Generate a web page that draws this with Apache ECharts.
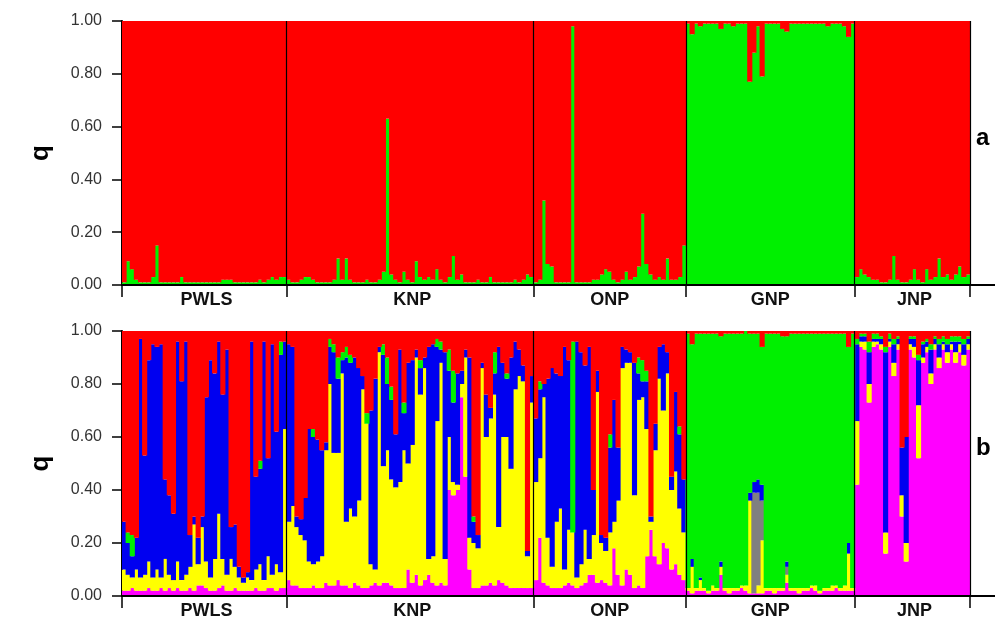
<!DOCTYPE html>
<html>
<head>
<meta charset="utf-8">
<title>STRUCTURE q plot</title>
<script src="https://cdn.jsdelivr.net/npm/echarts@6.0.0/dist/echarts.min.js"></script>
<style>
  html, body { margin: 0; padding: 0; background: #fff; }
  #chart { width: 995px; height: 629px; }
</style>
</head>
<body>
<div id="chart"></div>
<script>
// populations, in plot order
const pops = ['PWLS', 'KNP', 'ONP', 'GNP', 'JNP'];
const popSizes = [40, 60, 37, 41, 28];

// panel a (K=2): green share per individual, red is the rest (%)
const aGreen = [
  // PWLS
  1, 9, 6, 2, 1, 1, 1, 3, 15, 1, 1, 1, 1, 1, 3, 1, 1, 1, 1, 1,
  1, 1, 1, 1, 2, 2, 2, 1, 1, 1, 1, 1, 1, 2, 1, 2, 3, 2, 3, 3,
  // KNP
  2, 1, 1, 2, 3, 3, 2, 1, 1, 1, 1, 2, 10, 2, 10, 2, 1, 1, 1, 2,
  1, 1, 2, 5, 63, 4, 2, 1, 5, 2, 1, 9, 3, 2, 3, 2, 6, 2, 1, 3,
  11, 2, 4, 1, 1, 1, 2, 1, 1, 3, 1, 1, 1, 1, 1, 2, 1, 2, 4, 3,
  // ONP
  1, 2, 32, 8, 7, 1, 1, 1, 1, 98, 1, 1, 1, 1, 2, 2, 4, 6, 5, 2,
  1, 2, 5, 2, 3, 7, 27, 8, 4, 2, 3, 2, 10, 2, 2, 3, 15,
  // GNP
  99, 95, 99, 98, 99, 99, 99, 99, 97, 99, 99, 98, 99, 99, 99, 77, 88, 98, 79, 99,
  99, 99, 99, 97, 96, 99, 99, 99, 99, 99, 99, 99, 99, 99, 98, 99, 99, 99, 98, 94, 99,
  // JNP
  3, 6, 4, 3, 2, 2, 1, 1, 2, 11, 2, 1, 1, 2, 6, 2, 1, 6, 2, 3,
  10, 3, 4, 2, 4, 7, 3, 4
];

// panel b: cluster shares per individual (%), red is the rest
const bMagenta = [
  // PWLS
  2, 2, 3, 2, 2, 2, 3, 2, 2, 3, 2, 3, 2, 3, 2, 2, 3, 2, 4, 4,
  3, 2, 2, 3, 4, 2, 2, 3, 2, 2, 2, 2, 3, 2, 2, 3, 3, 2, 3, 3,
  // KNP
  6, 4, 4, 3, 3, 3, 4, 3, 3, 5, 4, 4, 6, 4, 4, 3, 5, 4, 3, 3,
  4, 5, 4, 5, 5, 4, 3, 3, 3, 10, 5, 8, 4, 6, 8, 5, 4, 5, 4, 40,
  38, 40, 75, 45, 10, 3, 3, 4, 4, 5, 4, 6, 5, 4, 3, 3, 3, 3, 3, 3,
  // ONP
  6, 22, 5, 4, 3, 3, 3, 4, 5, 4, 3, 4, 5, 8, 8, 5, 6, 5, 4, 18,
  8, 4, 10, 8, 3, 4, 3, 15, 25, 15, 12, 20, 18, 10, 12, 8, 6,
  // GNP
  2, 1, 2, 2, 2, 1, 2, 2, 8, 2, 1, 2, 2, 3, 2, 1, 1, 1, 1, 2,
  2, 1, 2, 2, 5, 2, 2, 1, 2, 2, 3, 2, 1, 2, 2, 2, 3, 2, 2, 2, 2,
  // JNP
  42, 94, 93, 73, 94, 95, 93, 16, 94, 83, 93, 30, 13, 93, 90, 52, 88, 92, 80, 93,
  86, 93, 88, 93, 88, 92, 87, 93
];
const bYellow = [
  // PWLS
  8, 6, 4, 8, 5, 6, 10, 5, 8, 4, 12, 5, 4, 10, 4, 6, 8, 25, 8, 22,
  10, 5, 12, 28, 10, 6, 12, 8, 5, 3, 5, 4, 7, 10, 4, 12, 5, 10, 6, 60,
  // KNP
  22, 30, 22, 20, 18, 10, 8, 10, 12, 50, 76, 50, 48, 80, 24, 30, 25, 32, 75, 62,
  8, 5, 88, 44, 50, 40, 38, 40, 52, 40, 52, 82, 72, 80, 6, 10, 62, 83, 10, 20,
  5, 2, 5, 45, 12, 17, 15, 82, 56, 62, 72, 20, 55, 56, 45, 75, 80, 78, 12, 70,
  // ONP
  37, 30, 70, 18, 8, 25, 30, 6, 20, 20, 4, 8, 20, 6, 15, 72, 14, 12, 20, 10,
  28, 82, 78, 80, 35, 70, 72, 48, 3, 40, 70, 50, 66, 30, 35, 25, 18,
  // GNP
  1, 10, 1, 4, 1, 1, 2, 1, 3, 1, 2, 1, 1, 1, 2, 35, 0, 3, 20, 1,
  1, 2, 1, 1, 3, 1, 1, 2, 1, 1, 1, 2, 1, 1, 1, 2, 1, 1, 2, 14, 1,
  // JNP
  24, 2, 3, 7, 2, 1, 2, 8, 2, 5, 2, 8, 7, 2, 4, 20, 2, 2, 4, 2,
  4, 2, 4, 2, 4, 3, 4, 2
];
const bGrey = [
  // PWLS
  0, 0, 0, 0, 0, 0, 0, 0, 0, 0, 0, 0, 0, 0, 0, 0, 0, 0, 0, 0,
  0, 0, 0, 0, 0, 0, 0, 0, 0, 0, 0, 0, 0, 0, 0, 0, 0, 0, 0, 0,
  // KNP
  0, 0, 0, 0, 0, 0, 0, 0, 0, 0, 0, 0, 0, 0, 0, 0, 0, 0, 0, 0,
  0, 0, 0, 0, 0, 0, 0, 0, 0, 0, 0, 0, 0, 0, 0, 0, 0, 0, 0, 0,
  0, 0, 0, 0, 0, 0, 0, 0, 0, 0, 0, 0, 0, 0, 0, 0, 0, 0, 0, 0,
  // ONP
  0, 0, 0, 0, 0, 0, 0, 0, 0, 0, 0, 0, 0, 0, 0, 0, 0, 0, 0, 0,
  0, 0, 0, 0, 0, 0, 0, 0, 0, 0, 0, 0, 0, 0, 0, 0, 0,
  // GNP
  0, 0, 0, 0, 0, 0, 0, 0, 0, 0, 0, 0, 0, 0, 0, 0, 38, 35, 15, 0,
  0, 0, 0, 0, 3, 0, 0, 0, 0, 0, 0, 0, 0, 0, 0, 0, 0, 0, 0, 0, 0,
  // JNP
  0, 0, 0, 0, 0, 0, 0, 0, 0, 0, 0, 0, 0, 0, 0, 0, 0, 0, 0, 0,
  0, 0, 0, 0, 0, 0, 0, 0
];
const bBlue = [
  // PWLS
  18, 12, 8, 12, 90, 45, 76, 88, 84, 88, 30, 30, 25, 83, 75, 88, 12, 3, 10, 4,
  62, 82, 70, 65, 62, 85, 12, 16, 4, 2, 2, 90, 35, 36, 90, 37, 87, 50, 82, 33,
  // KNP
  67, 60, 4, 6, 16, 50, 48, 46, 40, 3, 14, 38, 28, 5, 62, 55, 60, 50, 5, 0,
  58, 72, 2, 42, 25, 30, 20, 50, 14, 38, 32, 3, 10, 4, 80, 80, 28, 5, 78, 25,
  30, 42, 5, 3, 68, 8, 5, 2, 16, 4, 8, 68, 28, 22, 42, 18, 10, 6, 2, 10,
  // ONP
  24, 26, 5, 60, 75, 56, 50, 84, 64, 0, 89, 80, 62, 80, 17, 8, 3, 5, 32, 46,
  20, 8, 5, 4, 50, 10, 6, 18, 2, 10, 12, 25, 8, 5, 30, 28, 20,
  // GNP
  0, 3, 0, 1, 0, 0, 0, 0, 2, 0, 0, 0, 0, 0, 0, 3, 4, 5, 6, 0,
  0, 0, 0, 0, 2, 0, 0, 0, 0, 0, 0, 0, 0, 0, 0, 0, 0, 0, 0, 4, 0,
  // JNP
  29, 2, 2, 12, 1, 1, 2, 68, 1, 7, 2, 18, 40, 2, 3, 17, 5, 2, 9, 2,
  5, 1, 3, 1, 4, 1, 4, 2
];
const bGreen = [
  // PWLS
  0, 4, 8, 0, 0, 0, 0, 0, 0, 0, 0, 0, 0, 0, 0, 0, 0, 0, 0, 0,
  0, 0, 0, 0, 0, 0, 0, 0, 0, 0, 0, 0, 0, 3, 0, 0, 0, 0, 5, 0,
  // KNP
  0, 0, 0, 0, 0, 0, 3, 0, 0, 0, 3, 3, 8, 3, 4, 3, 0, 0, 0, 4,
  0, 0, 0, 4, 10, 5, 0, 0, 4, 0, 0, 0, 3, 0, 0, 0, 3, 3, 0, 8,
  12, 0, 0, 0, 0, 2, 0, 0, 0, 0, 8, 0, 0, 2, 0, 0, 0, 0, 0, 0,
  // ONP
  0, 3, 0, 0, 0, 0, 0, 0, 0, 72, 0, 0, 0, 0, 0, 0, 0, 0, 5, 0,
  0, 0, 0, 0, 0, 6, 8, 4, 0, 0, 0, 0, 0, 0, 0, 3, 0,
  // GNP
  96, 81, 96, 92, 96, 97, 95, 96, 85, 96, 96, 96, 96, 95, 96, 60, 56, 55, 52, 96,
  96, 96, 96, 95, 85, 96, 96, 96, 96, 96, 95, 95, 97, 96, 96, 95, 95, 96, 95, 74, 96,
  // JNP
  2, 1, 1, 4, 2, 2, 1, 2, 2, 2, 1, 0, 0, 1, 1, 2, 1, 1, 2, 1,
  2, 2, 2, 2, 2, 2, 2, 1
];

const ids = aGreen.map((_, i) => 'ind' + (i + 1));
const starts = [];
popSizes.reduce((s, n) => { starts.push(s); return s + n; }, 0);
const bounds = new Set(starts);
const centers = starts.map((s, k) => s + Math.floor(popSizes[k] / 2));

const pct = arr => arr.map(v => v / 100);
const aRed = aGreen.map(v => (100 - v) / 100);
const bRed = bMagenta.map((v, i) =>
  Math.max(0, 100 - v - bYellow[i] - bGrey[i] - bBlue[i] - bGreen[i]) / 100);

const font = 'Liberation Sans, Arial, sans-serif';

function xAxisFor(g) {
  return {
    type: 'category',
    gridIndex: g,
    data: ids,
    z: 5,
    axisLine: { lineStyle: { color: '#000', width: 2 } },
    axisTick: {
      show: true, length: 12,
      interval: i => bounds.has(i),
      lineStyle: { color: '#000', width: 1.5 }
    },
    splitLine: {
      show: true,
      interval: i => i > 0 && bounds.has(i),
      lineStyle: { color: '#000', width: 1.2 }
    },
    axisLabel: {
      interval: i => centers.indexOf(i) >= 0,
      formatter: (v, i) => pops[centers.indexOf(i)],
      color: '#111', fontFamily: font, fontWeight: 'bold', fontSize: 18, margin: 6
    }
  };
}

function yAxisFor(g) {
  return {
    type: 'value',
    gridIndex: g,
    min: 0, max: 1, interval: 0.2,
    name: 'q',
    nameLocation: 'middle',
    nameGap: 68,
    nameTextStyle: { fontFamily: font, fontWeight: 'bold', fontSize: 26, color: '#000' },
    axisLine: { show: true, lineStyle: { color: '#000', width: 2 } },
    axisTick: { show: true, length: 10, lineStyle: { color: '#000', width: 1.5 } },
    splitLine: { show: false },
    axisLabel: {
      formatter: v => v.toFixed(2),
      color: '#333', fontFamily: font, fontSize: 16, margin: 20
    }
  };
}

function barSeries(name, data, color, g, stack) {
  return {
    name, type: 'bar', stack,
    xAxisIndex: g, yAxisIndex: g,
    data, barWidth: '125%', barGap: '0%',
    itemStyle: { color },
    emphasis: { disabled: true }
  };
}

const chart = echarts.init(document.getElementById('chart'), null, { renderer: 'canvas' });
chart.setOption({
  animation: false,
  backgroundColor: '#fff',
  grid: [
    { left: 122, right: 25, top: 21, height: 264 },
    { left: 122, right: 25, top: 331, height: 265 }
  ],
  xAxis: [xAxisFor(0), xAxisFor(1)],
  yAxis: [yAxisFor(0), yAxisFor(1)],
  series: [
    barSeries('green', pct(aGreen), '#00f000', 0, 'a'),
    barSeries('red', aRed, '#ff0000', 0, 'a'),
    barSeries('magenta', pct(bMagenta), '#ff00ff', 1, 'b'),
    barSeries('yellow', pct(bYellow), '#ffff00', 1, 'b'),
    barSeries('grey', pct(bGrey), '#808080', 1, 'b'),
    barSeries('blue', pct(bBlue), '#0000f0', 1, 'b'),
    barSeries('green', pct(bGreen), '#00f000', 1, 'b'),
    barSeries('red', bRed, '#ff0000', 1, 'b')
  ],
  graphic: [
    { type: 'line', shape: { x1: 970, y1: 285, x2: 995, y2: 285 }, style: { stroke: '#000', lineWidth: 2 } },
    { type: 'line', shape: { x1: 970, y1: 596, x2: 995, y2: 596 }, style: { stroke: '#000', lineWidth: 2 } },
    { type: 'text', left: 976, top: 126, style: { text: 'a', font: 'bold 24px ' + font, fill: '#000' } },
    { type: 'text', left: 976, top: 436, style: { text: 'b', font: 'bold 24px ' + font, fill: '#000' } }
  ]
});
</script>
</body>
</html>
